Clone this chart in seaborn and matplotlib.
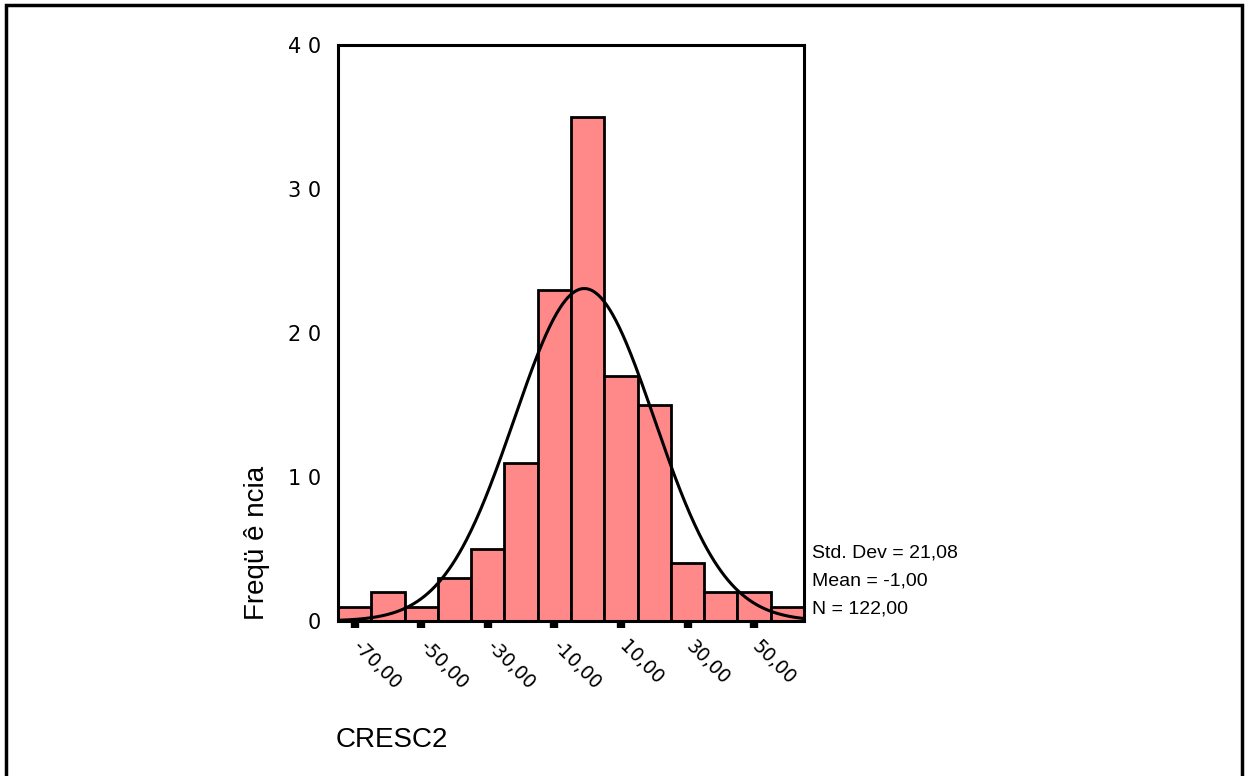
import numpy as np
import pandas as pd
import seaborn as sns
import matplotlib
matplotlib.use("Agg")
import matplotlib.pyplot as plt
import matplotlib.transforms as mtransforms
from matplotlib.patches import Rectangle

# Data
bin_centers = [-70, -60, -50, -40, -30, -20, -10, 0, 10, 20, 30, 40, 50, 60]
counts = [1, 2, 1, 3, 5, 11, 23, 35, 17, 15, 4, 2, 2, 1]
bin_edges = [-75, -65, -55, -45, -35, -25, -15, -5, 5, 15, 25, 35, 45, 55, 65]
xtick_vals = [-70, -50, -30, -10, 10, 30, 50]
xtick_labels = ["-70,00", "-50,00", "-30,00", "-10,00", "10,00", "30,00", "50,00"]
ytick_vals = [0, 10, 20, 30, 40]
ytick_labels = ["0", "1 0", "2 0", "3 0", "4 0"]
stat_mean = -1.00
stat_std = 21.08
stat_n = 122
bin_width = 10

sns.set_theme(style="white")
plt.rcParams['font.family'] = ['Liberation Sans', 'DejaVu Sans']
plt.rcParams['text.color'] = 'black'
plt.rcParams['xtick.color'] = 'black'
plt.rcParams['ytick.color'] = 'black'

fig = plt.figure(figsize=(12.47, 7.76), dpi=100)
ax = fig.add_axes([338/1247, 1-621/776, (804-338)/1247, (621-45)/776])

df = pd.DataFrame({"x": bin_centers, "w": counts})
sns.histplot(data=df, x="x", weights="w", bins=bin_edges, ax=ax,
             color="#FF8888", alpha=1.0, edgecolor="black", linewidth=2)

# Fitted normal curve
xs = np.linspace(-75, 65, 400)
ys = stat_n * bin_width / (stat_std * np.sqrt(2*np.pi)) * np.exp(-0.5*((xs - stat_mean)/stat_std)**2)
sns.lineplot(x=xs, y=ys, ax=ax, color="black", linewidth=2.2)

ax.set_xlim(-75, 65)
ax.set_ylim(0, 40)
for s in ax.spines.values():
    s.set_visible(True)
    s.set_color("black")
    s.set_linewidth(2.2)

ax.set_xticks(xtick_vals)
ax.set_xticklabels(xtick_labels, rotation=-45, ha="left", va="top",
                   rotation_mode="anchor", fontsize=13.5, family=['DejaVu Sans'])
ax.tick_params(axis="x", direction="out", length=5, width=6, color="black", pad=8, bottom=True)
offset = mtransforms.ScaledTranslation(8/100, 2/100, fig.dpi_scale_trans)
for lab in ax.get_xticklabels():
    lab.set_transform(lab.get_transform() + offset)
ax.set_yticks(ytick_vals)
ax.set_yticklabels(ytick_labels, fontsize=15, family=['DejaVu Sans'])
ax.tick_params(axis="y", length=0, pad=12, left=False)

ax.set_xlabel("")
ax.set_ylabel("")
fig.text(257/1247, 1-543/776, "Freqü ê ncia", fontsize=20, rotation=90,
         ha="center", va="center")

fig.text(336/1247, 1-740/776, "CRESC2", fontsize=20, ha="left", va="center")

fig.text(812/1247, 1-553/776, "Std. Dev = 21,08", fontsize=14, ha="left", va="center")
fig.text(812/1247, 1-581/776, "Mean = -1,00", fontsize=14, ha="left", va="center")
fig.text(812/1247, 1-609/776, "N = 122,00", fontsize=14, ha="left", va="center")

# Outer frame
fig.patches.append(Rectangle((6/1247, -0.01), (1242-6)/1247, 1-5/776+0.01,
                             transform=fig.transFigure, fill=False,
                             edgecolor="black", linewidth=2.5))

fig.savefig("out.png", dpi=100, facecolor="white")
